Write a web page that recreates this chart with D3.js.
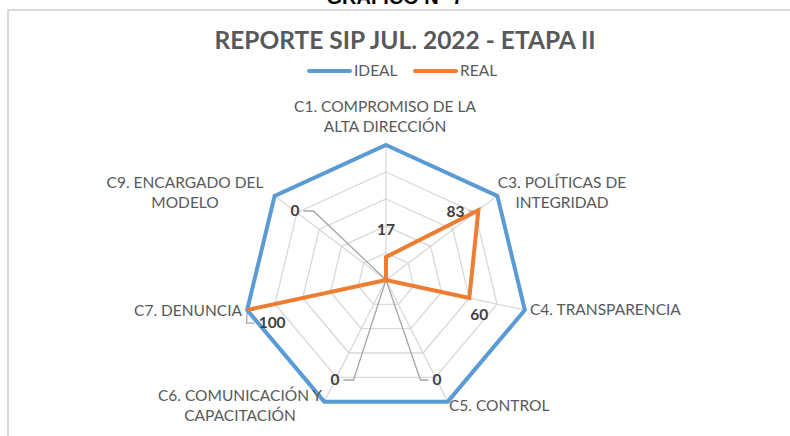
<!DOCTYPE html>
<html>
<head>
<meta charset="utf-8">
<script src="https://cdn.jsdelivr.net/npm/d3@7"></script>
<style>
body { margin: 0; background: #fff; }
text { font-family: Lato, "Open Sans", sans-serif; }
</style>
</head>
<body>
<script>
// categories and series
var categories = [
	["C1. COMPROMISO DE LA", "ALTA DIRECCIÓN"],
	["C3. POLÍTICAS DE", "INTEGRIDAD"],
	["C4. TRANSPARENCIA"],
	["C5. CONTROL"],
	["C6. COMUNICACIÓN Y", "CAPACITACIÓN"],
	["C7. DENUNCIA"],
	["C9. ENCARGADO DEL", "MODELO"]
];
var ideal = [100, 100, 100, 100, 100, 100, 100];
var real = [17, 83, 60, 0, 0, 100, 0];
var gridTicks = [20, 40, 60, 80, 100];

var W = 790, H = 436;
var cx = 386, cy = 280;
var stretch = 1.055; // picture is a little wider than tall

var svg = d3.select("body").append("svg")
	.attr("width", W)
	.attr("height", H);

// chart border (only top and left visible)
svg.append("path")
	.attr("d", "M8,436 L8,10 L790,10")
	.attr("fill", "none")
	.attr("stroke", "#d9d9d9")
	.attr("stroke-width", 2);

// heading above the chart, cut off by the top edge like in the original
svg.append("text")
	.attr("x", 395).attr("y", 4)
	.attr("text-anchor", "middle")
	.style("font-family", "Arial, 'Liberation Sans', sans-serif")
	.style("font-weight", "bold")
	.style("font-size", "20px")
	.attr("fill", "#000")
	.text("GRAFICO N° 7");

svg.append("text")
	.attr("x", 405).attr("y", 49)
	.attr("text-anchor", "middle")
	.style("font-weight", "bold")
	.style("font-size", "24.5px")
	.attr("fill", "#595959")
	.text("REPORTE SIP JUL. 2022 - ETAPA II");

var n = categories.length;
var angle = d3.scaleLinear().domain([0, n]).range([0, 2 * Math.PI]);
var r = d3.scaleLinear().domain([0, 100]).range([0, 135]);

function pt(i, v) {
	var a = angle(i);
	return [cx + r(v) * Math.sin(a) * stretch, cy - r(v) * Math.cos(a)];
}

// grid rings
var line = d3.line().curve(d3.curveLinearClosed);
svg.selectAll("path.ring")
	.data(gridTicks)
	.enter().append("path")
	.attr("class", "ring")
	.attr("d", function(t) { return line(d3.range(n).map(function(i) { return pt(i, t); })); })
	.attr("fill", "none")
	.attr("stroke", "#d9d9d9")
	.attr("stroke-width", 1.3);

// spokes
svg.selectAll("line.spoke")
	.data(d3.range(n))
	.enter().append("line")
	.attr("class", "spoke")
	.attr("x1", cx).attr("y1", cy)
	.attr("x2", function(i) { return pt(i, 100)[0]; })
	.attr("y2", function(i) { return pt(i, 100)[1]; })
	.attr("stroke", "#d9d9d9")
	.attr("stroke-width", 1.3);

// data label placement and leader lines (offsets from the point, px)
var labelPos = [
	{dx: 0, dy: -27, lead: null},
	{dx: -23, dy: 1, lead: "right"},
	{dx: 10, dy: 17, lead: null},
	{dx: 51, dy: 100, lead: "left"},
	{dx: -51, dy: 100, lead: "right"},
	{dx: 25, dy: 13, lead: "left"},
	{dx: -91, dy: -69, lead: "right"}
];

var leaders = svg.append("g");
real.forEach(function(v, i) {
	var p = pt(i, v), L = labelPos[i];
	if (!L.lead) return;
	var lx = p[0] + L.dx, ly = p[1] + L.dy;
	var w = String(v).length * 4.5 + 4;
	var sx = L.lead == "right" ? lx + w : lx - w;
	var ex = L.lead == "right" ? sx + 10 : sx - 8;
	var pts = [[sx, ly], [ex, ly], p];
	leaders.append("path")
		.attr("d", d3.line()(pts))
		.attr("fill", "none")
		.attr("stroke", "#a6a6a6")
		.attr("stroke-width", 1.3);
});

// series
var series = [
	{name: "IDEAL", values: ideal, color: "#5b9bd5"},
	{name: "REAL", values: real, color: "#ed7d31"}
];
svg.selectAll("path.series")
	.data(series)
	.enter().append("path")
	.attr("class", "series")
	.attr("d", function(s) { return line(s.values.map(function(v, i) { return pt(i, v); })); })
	.attr("fill", "none")
	.attr("stroke", function(s) { return s.color; })
	.attr("stroke-width", 4)
	.attr("stroke-linejoin", "miter");

// data labels
svg.selectAll("text.val")
	.data(real)
	.enter().append("text")
	.attr("class", "val")
	.attr("x", function(v, i) { return pt(i, v)[0] + labelPos[i].dx; })
	.attr("y", function(v, i) { return pt(i, v)[1] + labelPos[i].dy; })
	.attr("dy", "0.35em")
	.attr("text-anchor", "middle")
	.style("font-weight", "bold")
	.style("font-size", "15.5px")
	.attr("fill", "#404040")
	.text(function(v) { return v; });

// category labels
var catPos = [
	{x: 385, y: 107, anchor: "middle"},
	{x: 562, y: 183, anchor: "middle"},
	{x: 530, y: 310, anchor: "start"},
	{x: 449, y: 406, anchor: "start"},
	{x: 240, y: 396, anchor: "middle"},
	{x: 242, y: 311, anchor: "end"},
	{x: 185, y: 183, anchor: "middle"}
];
svg.selectAll("text.cat")
	.data(categories)
	.enter().append("text")
	.attr("class", "cat")
	.attr("x", function(d, i) { return catPos[i].x; })
	.attr("y", function(d, i) { return catPos[i].y; })
	.attr("text-anchor", function(d, i) { return catPos[i].anchor; })
	.style("font-size", "15.5px")
	.attr("fill", "#595959")
	.each(function(d, i) {
		var t = d3.select(this);
		d.forEach(function(s, k) {
			t.append("tspan")
				.attr("x", catPos[i].x)
				.attr("y", catPos[i].y + k * 20)
				.attr("dy", "0.35em")
				.text(s);
		});
	});

// legend
var legend = svg.selectAll("g.legend")
	.data(series)
	.enter().append("g")
	.attr("class", "legend")
	.attr("transform", function(s, i) { return "translate(" + (309 + i * 106) + ",71)"; });
legend.append("line")
	.attr("x1", 0).attr("x2", 41)
	.attr("stroke", function(s) { return s.color; })
	.attr("stroke-width", 4)
	.attr("stroke-linecap", "round");
legend.append("text")
	.attr("x", 45)
	.attr("dy", "0.35em")
	.style("font-size", "15.5px")
	.attr("fill", "#595959")
	.text(function(s) { return s.name; });
</script>
</body>
</html>
